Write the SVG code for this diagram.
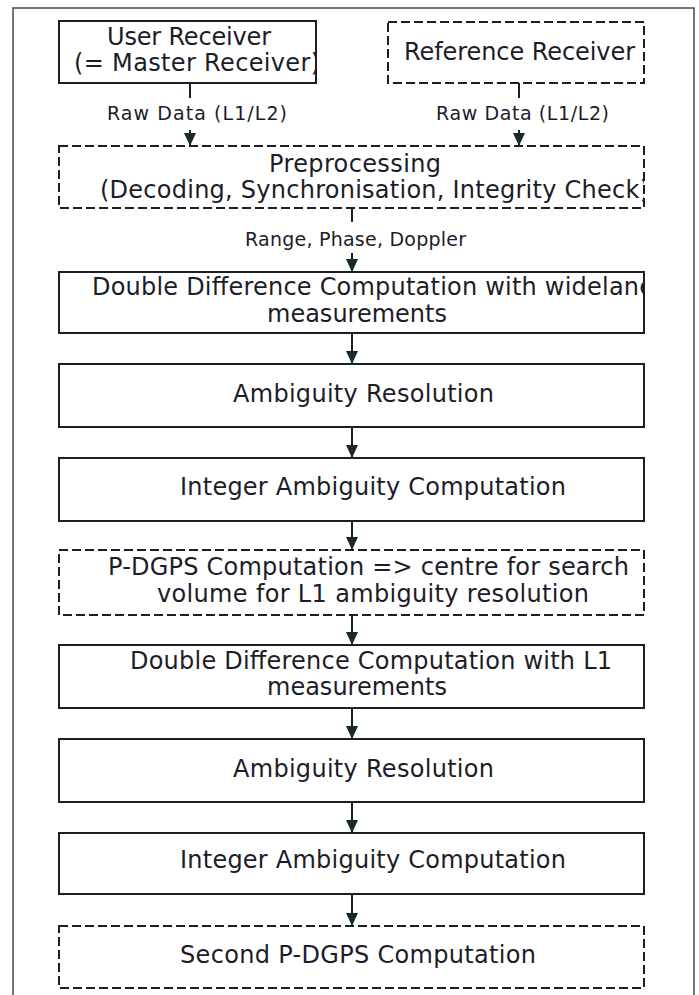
<svg xmlns="http://www.w3.org/2000/svg" width="699" height="995" viewBox="0 0 699 995">
  <style>
    .box { fill: #ffffff; stroke: #1c1d28; stroke-width: 2; }
    .dash { stroke-dasharray: 9 4; }
    .t { font-family: "DejaVu Sans", "Noto Sans", sans-serif; font-size: 24px; fill: #1c1d28; }
    .s { font-family: "DejaVu Sans", "Noto Sans", sans-serif; font-size: 19px; fill: #1c1d28; }
    .link { stroke: #1c1d28; stroke-width: 2; fill: none; }
    .frame { stroke: #4a4a4a; stroke-width: 1.5; fill: none; }
  </style>
  <defs>
    <marker id="arrow" viewBox="0 0 13 13" refX="13" refY="6.5" markerWidth="13" markerHeight="13" markerUnits="userSpaceOnUse" orient="auto">
      <path d="M0,0.5 L13,6.5 L0,12.5 z" fill="#1a2a2c"/>
    </marker>
    <clipPath id="clipUser"><rect x="59" y="21" width="257" height="62"/></clipPath>
    <clipPath id="clipPre"><rect x="59" y="146" width="585" height="62"/></clipPath>
    <clipPath id="clipDdw"><rect x="59" y="272" width="585" height="61"/></clipPath>
  </defs>

  <rect x="0" y="0" width="699" height="995" fill="#ffffff"/>

  <!-- outer frame, runs off the bottom edge -->
  <path class="frame" d="M13,1000 V8 H694 V1000"/>

  <!-- receivers -->
  <g id="user-receiver">
    <rect class="box" x="59" y="21" width="257" height="62"/>
    <g clip-path="url(#clipUser)">
      <text class="t" x="107" y="45" textLength="164" lengthAdjust="spacing">User Receiver</text>
      <text class="t" x="74" y="71" textLength="246" lengthAdjust="spacing">(= Master Receiver)</text>
    </g>
    <rect x="59" y="21" width="257" height="62" fill="none" stroke="#1c1d28" stroke-width="2"/>
  </g>

  <g id="reference-receiver">
    <rect class="box dash" x="388" y="22" width="256" height="61"/>
    <text class="t" x="404" y="60" textLength="231" lengthAdjust="spacing">Reference Receiver</text>
  </g>

  <!-- processing chain -->
  <g id="preprocessing">
    <rect class="box dash" x="59" y="146" width="585" height="62"/>
    <g clip-path="url(#clipPre)">
      <text class="t" x="269" y="172" textLength="172" lengthAdjust="spacing">Preprocessing</text>
      <text class="t" x="100" y="198" textLength="549" lengthAdjust="spacing">(Decoding, Synchronisation, Integrity Check)</text>
    </g>
    <rect x="59" y="146" width="585" height="62" fill="none" stroke="#1c1d28" stroke-width="2" stroke-dasharray="9 4"/>
  </g>

  <g id="dd-widelane">
    <rect class="box" x="59" y="272" width="585" height="61"/>
    <g clip-path="url(#clipDdw)">
      <text class="t" x="92" y="295" textLength="562" lengthAdjust="spacing">Double Difference Computation with widelane</text>
    </g>
    <text class="t" x="267" y="322" textLength="180" lengthAdjust="spacing">measurements</text>
    <rect x="59" y="272" width="585" height="61" fill="none" stroke="#1c1d28" stroke-width="2"/>
  </g>

  <g id="ambiguity-resolution-1">
    <rect class="box" x="59" y="364" width="585" height="63"/>
    <text class="t" x="233" y="402" textLength="261" lengthAdjust="spacing">Ambiguity Resolution</text>
  </g>

  <g id="integer-ambiguity-1">
    <rect class="box" x="59" y="458" width="585" height="63"/>
    <text class="t" x="180" y="495" textLength="386" lengthAdjust="spacing">Integer Ambiguity Computation</text>
  </g>

  <g id="pdgps">
    <rect class="box dash" x="59" y="550" width="585" height="65"/>
    <text class="t" x="108" y="575" textLength="521" lengthAdjust="spacing">P-DGPS Computation =&gt; centre for search</text>
    <text class="t" x="157" y="602" textLength="432" lengthAdjust="spacing">volume for L1 ambiguity resolution</text>
  </g>

  <g id="dd-l1">
    <rect class="box" x="59" y="645" width="585" height="63"/>
    <text class="t" x="130" y="669" textLength="482" lengthAdjust="spacing">Double Difference Computation with L1</text>
    <text class="t" x="267" y="695" textLength="180" lengthAdjust="spacing">measurements</text>
  </g>

  <g id="ambiguity-resolution-2">
    <rect class="box" x="59" y="739" width="585" height="63"/>
    <text class="t" x="233" y="777" textLength="261" lengthAdjust="spacing">Ambiguity Resolution</text>
  </g>

  <g id="integer-ambiguity-2">
    <rect class="box" x="59" y="833" width="585" height="61"/>
    <text class="t" x="180" y="868" textLength="386" lengthAdjust="spacing">Integer Ambiguity Computation</text>
  </g>

  <g id="second-pdgps">
    <rect class="box dash" x="59" y="926" width="585" height="62"/>
    <text class="t" x="180" y="963" textLength="356" lengthAdjust="spacing">Second P-DGPS Computation</text>
  </g>

  <!-- connectors -->
  <g id="connectors">
    <line class="link" x1="190" y1="83" x2="190" y2="98"/>
    <text class="s" x="107" y="120" textLength="180" lengthAdjust="spacing">Raw Data (L1/L2)</text>
    <line class="link" x1="190" y1="130" x2="190" y2="146" marker-end="url(#arrow)"/>

    <line class="link" x1="519" y1="83" x2="519" y2="98"/>
    <text class="s" x="436" y="120" textLength="173" lengthAdjust="spacing">Raw Data (L1/L2)</text>
    <line class="link" x1="519" y1="130" x2="519" y2="146" marker-end="url(#arrow)"/>

    <line class="link" x1="352" y1="208" x2="352" y2="222"/>
    <text class="s" x="245" y="246" textLength="221" lengthAdjust="spacing">Range, Phase, Doppler</text>
    <line class="link" x1="352" y1="253" x2="352" y2="272" marker-end="url(#arrow)"/>

    <line class="link" x1="352" y1="333" x2="352" y2="364" marker-end="url(#arrow)"/>
    <line class="link" x1="352" y1="427" x2="352" y2="458" marker-end="url(#arrow)"/>
    <line class="link" x1="352" y1="521" x2="352" y2="550" marker-end="url(#arrow)"/>
    <line class="link" x1="352" y1="615" x2="352" y2="645" marker-end="url(#arrow)"/>
    <line class="link" x1="352" y1="708" x2="352" y2="739" marker-end="url(#arrow)"/>
    <line class="link" x1="352" y1="802" x2="352" y2="833" marker-end="url(#arrow)"/>
    <line class="link" x1="352" y1="894" x2="352" y2="926" marker-end="url(#arrow)"/>
  </g>
</svg>
